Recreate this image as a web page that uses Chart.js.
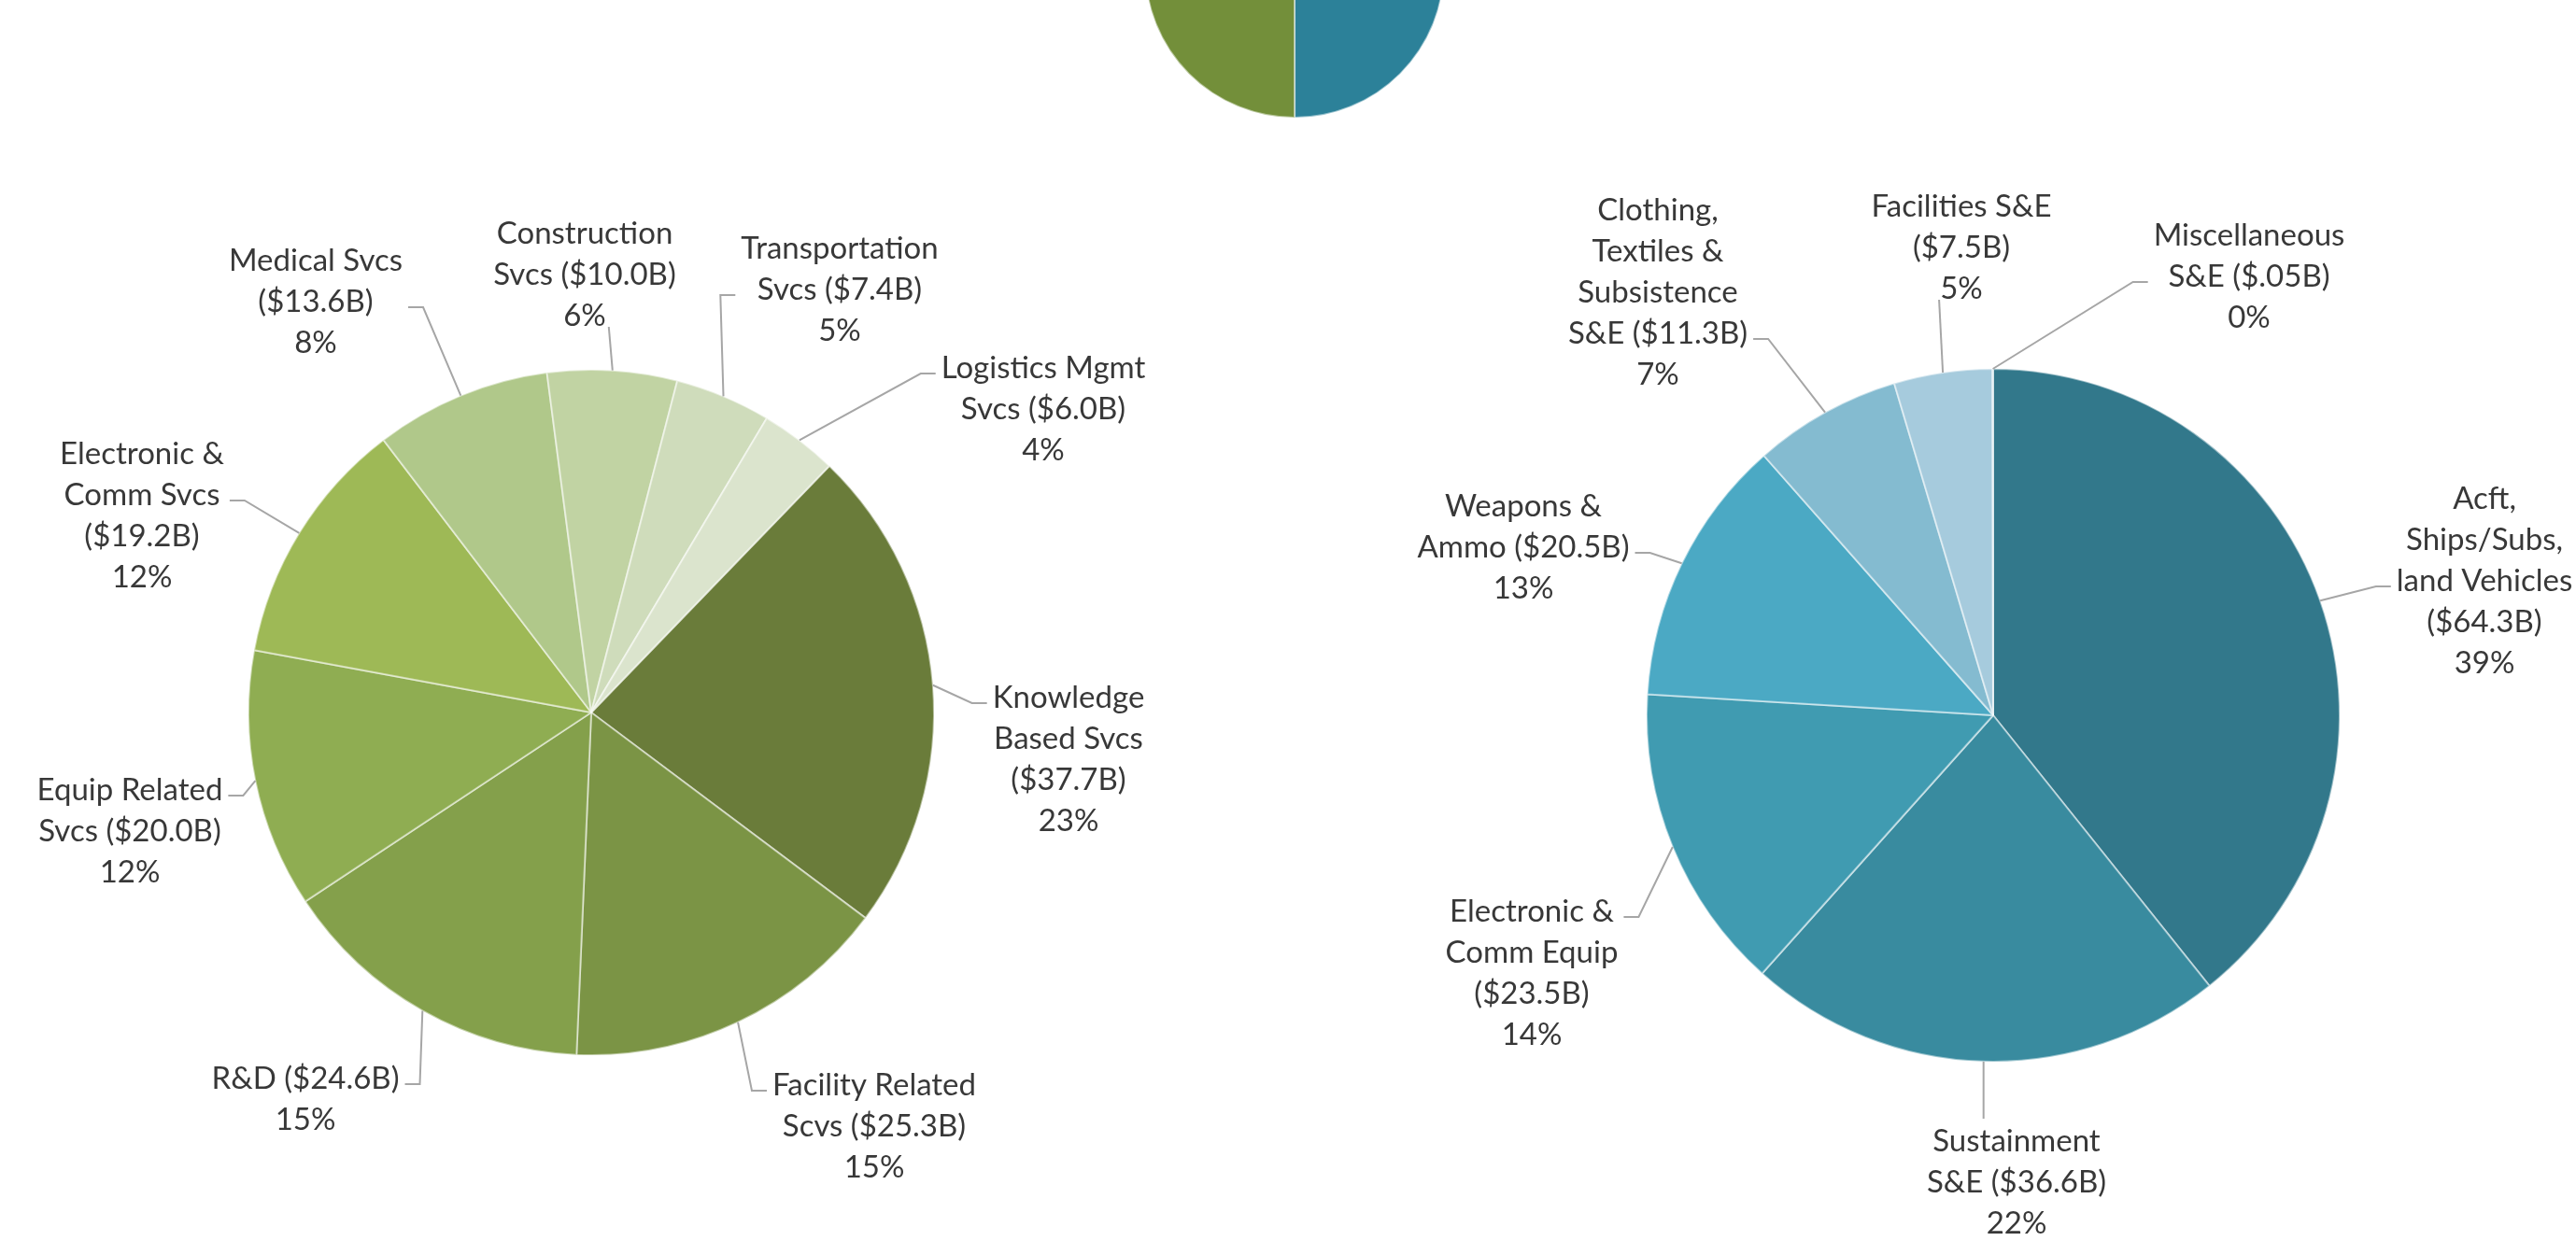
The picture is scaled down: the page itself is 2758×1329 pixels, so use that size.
<!DOCTYPE html>
<html>
<head>
<meta charset="utf-8">
<script src="https://cdn.jsdelivr.net/npm/chart.js@4.4.1/dist/chart.umd.min.js"></script>
<style>
    html, body { margin: 0; padding: 0; background: #ffffff; overflow: hidden; }
    body { width: 2758px; height: 1329px; position: relative; }
    .pane { position: absolute; }
</style>
</head>
<body>
<div class="pane" style="left:1186px; top:-234px;"><canvas id="totalChart" width="400" height="400"></canvas></div>
<div class="pane" style="left:0; top:0;"><canvas id="serviceChart" width="1379" height="1329"></canvas></div>
<div class="pane" style="left:1379px; top:0;"><canvas id="productChart" width="1379" height="1329"></canvas></div>
<script>
// Services vs products (top pie, mostly cut off)
const totalNames = ['Products', 'Services'];
const totalValues = [163.75, 163.8];

// Services breakdown ($B)
const serviceNames = ['Knowledge Based Svcs', 'Facility Related Scvs', 'R&D', 'Equip Related Svcs',
    'Electronic & Comm Svcs', 'Medical Svcs', 'Construction Svcs', 'Transportation Svcs', 'Logistics Mgmt Svcs'];
const serviceValues = [37.7, 25.3, 24.6, 20.0, 19.2, 13.6, 10.0, 7.4, 6.0];

// Products breakdown ($B)
const productNames = ['Acft, Ships/Subs, land Vehicles', 'Sustainment S&E', 'Electronic & Comm Equip',
    'Weapons & Ammo', 'Clothing, Textiles & Subsistence S&E', 'Facilities S&E', 'Miscellaneous S&E'];
const productValues = [64.3, 36.6, 23.5, 20.5, 11.3, 7.5, 0.05];

const totalColors = ['#2c8199', '#738f3a'];
const serviceColors = ['#6a7c3a', '#7b9445', '#84a04b', '#8fad52', '#9eb956', '#b0c88a', '#c1d3a3', '#cfdcbb', '#dbe4cd'];
const productColors = ['#32788b', '#398b9f', '#409bb1', '#4ba9c4', '#84bbd0', '#a6cbdd', '#c5dde8'];

// label placement, offsets from pie centre; w = wrap width, side = where the leader line attaches
const serviceLabelLayout = [
    { dx: 511, dy: 50, w: 200, side: 'l', line: 0 },
    { dx: 303, dy: 443, w: 245, side: 'l', line: 0 },
    { dx: -306, dy: 414, w: 245, side: 'r', line: 0 },
    { dx: -494, dy: 127, w: 230, side: 'r', line: 0 },
    { dx: -481, dy: -211, w: 215, side: 'r', line: 1 },
    { dx: -295, dy: -440, w: 215, side: 'r', line: 1 },
    { dx: -7, dy: -469, w: 220, side: 'b' },
    { dx: 266, dy: -453, w: 245, side: 'l', line: 1 },
    { dx: 484, dy: -325, w: 245, side: 'l', line: 0 }
];
const productLabelLayout = [
    { dx: 526, dy: -144, w: 215, side: 'l', line: 2 },
    { dx: 25, dy: 500, w: 220, side: 't' },
    { dx: -494, dy: 276, w: 215, side: 'r', line: 0 },
    { dx: -503, dy: -180, w: 245, side: 'r', line: 1 },
    { dx: -359, dy: -453, w: 220, side: 'r', line: 3 },
    { dx: -34, dy: -501, w: 220, side: 'b' },
    { dx: 274, dy: -470, w: 230, side: 'l', line: 1 }
];

const LABEL_FONT = '33px Lato, "Open Sans", sans-serif';
const LINE_H = 44;

function money(v) {
    if (v < 1) return '$' + String(v).replace(/^0/, '') + 'B';
    return '$' + v.toFixed(1) + 'B';
}

function wrapWords(ctx, text, maxW) {
    const words = text.split(' ');
    const lines = [];
    let cur = '';
    words.forEach(w => {
        const test = cur ? cur + ' ' + w : w;
        if (cur && ctx.measureText(test).width > maxW) {
            lines.push(cur);
            cur = w;
        } else {
            cur = test;
        }
    });
    if (cur) lines.push(cur);
    return lines;
}

// Excel style outside labels with leader lines
function sliceLabels(names, values, layout) {
    const total = values.reduce((a, b) => a + b, 0);
    return {
        id: 'sliceLabels',
        afterDatasetsDraw(chart) {
            const ctx = chart.ctx;
            const arcs = chart.getDatasetMeta(0).data;
            ctx.save();
            ctx.font = LABEL_FONT;
            ctx.textAlign = 'center';
            ctx.textBaseline = 'middle';
            arcs.forEach((arc, i) => {
                const lay = layout[i];
                const lines = wrapWords(ctx, names[i] + ' (' + money(values[i]) + ')', lay.w);
                lines.push(Math.round(values[i] / total * 100) + '%');
                const cx = arc.x + lay.dx;
                const cy = arc.y + lay.dy;
                const top = cy - (lines.length - 1) * LINE_H / 2;
                const boxW = Math.max(...lines.map(t => ctx.measureText(t).width));
                const mid = (arc.startAngle + arc.endAngle) / 2;
                const px = arc.x + Math.cos(mid) * arc.outerRadius;
                const py = arc.y + Math.sin(mid) * arc.outerRadius;

                ctx.strokeStyle = '#a6a6a6';
                ctx.lineWidth = 2;
                ctx.beginPath();
                ctx.moveTo(px, py);
                if (lay.side === 'l' || lay.side === 'r') {
                    const dir = lay.side === 'l' ? -1 : 1;
                    const ax = cx + dir * (boxW / 2 + 6);
                    const ay = top + lay.line * LINE_H + 6;
                    ctx.lineTo(ax + dir * 16, ay);
                    ctx.lineTo(ax, ay);
                } else if (lay.side === 'b') {
                    ctx.lineTo(px - 4, top + (lines.length - 1) * LINE_H + 12);
                } else {
                    ctx.lineTo(px, top - 24);
                }
                ctx.stroke();

                ctx.fillStyle = '#383838';
                lines.forEach((t, k) => ctx.fillText(t, cx, top + k * LINE_H));
            });
            ctx.restore();
        }
    };
}

function makePie(id, names, values, colors, rotation, radius, padding, layout) {
    return new Chart(document.getElementById(id), {
        type: 'pie',
        data: {
            labels: names,
            datasets: [{
                data: values,
                backgroundColor: colors,
                borderColor: 'rgba(255, 255, 255, 0.5)',
                borderWidth: 2
            }]
        },
        options: {
            responsive: false,
            animation: false,
            events: [],
            rotation: rotation,
            radius: radius,
            layout: { padding: padding },
            plugins: {
                legend: { display: false },
                tooltip: { enabled: false }
            }
        },
        plugins: layout ? [sliceLabels(names, values, layout)] : []
    });
}

makePie('totalChart', totalNames, totalValues, totalColors, 0, 160, 0, null);
makePie('serviceChart', serviceNames, serviceValues, serviceColors, 44, 367,
    { top: 197, bottom: 0, left: 0, right: 113 }, serviceLabelLayout);
makePie('productChart', productNames, productValues, productColors, 0, 371,
    { top: 203, bottom: 0, left: 131, right: 0 }, productLabelLayout);
</script>
</body>
</html>
